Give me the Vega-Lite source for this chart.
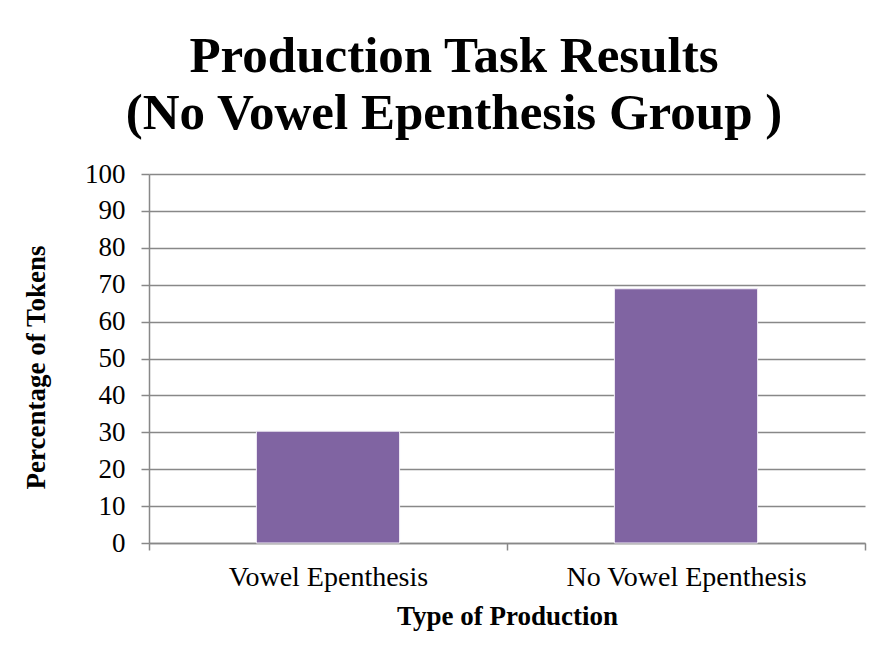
{
  "$schema": "https://vega.github.io/schema/vega-lite/v6.json",
  "width": 716,
  "height": 369,
  "autosize": {"type": "none"},
  "padding": {"left": 149, "top": 174, "right": 18, "bottom": 117},
  "background": "white",
  "title": {
    "text": ["Production Task Results", "(No Vowel Epenthesis Group )"],
    "font": "Liberation Serif",
    "fontSize": 51,
    "fontWeight": "bold",
    "lineHeight": 57,
    "color": "black",
    "anchor": "middle",
    "frame": "group",
    "dx": -53,
    "offset": 20
  },
  "data": {
    "values": [
      {"type": "Vowel Epenthesis", "pct": 30.3},
      {"type": "No Vowel Epenthesis", "pct": 68.9}
    ]
  },
  "mark": {"type": "bar", "color": "#8064A2", "width": {"band": 0.4}, "stroke": "#f2eef7", "strokeWidth": 1},
  "encoding": {
    "x": {
      "field": "type",
      "type": "nominal",
      "sort": ["Vowel Epenthesis", "No Vowel Epenthesis"],
      "scale": {"paddingInner": 0, "paddingOuter": 0},
      "axis": {
        "title": "Type of Production",
        "labelAngle": 0,
        "labelLimit": 0,
        "tickBand": "extent",
        "tickSize": 7,
        "tickColor": "#888888",
        "tickWidth": 1.5,
        "domainColor": "#888888",
        "domainWidth": 1.5,
        "labelFont": "Liberation Serif",
        "labelFontSize": 28,
        "labelColor": "black",
        "labelPadding": 13,
        "titleFont": "Liberation Serif",
        "titleFontSize": 27,
        "titleFontWeight": "bold",
        "titleColor": "black",
        "titlePadding": 12
      }
    },
    "y": {
      "field": "pct",
      "type": "quantitative",
      "scale": {"domain": [0, 100], "nice": false},
      "axis": {
        "title": "Percentage of Tokens",
        "values": [0, 10, 20, 30, 40, 50, 60, 70, 80, 90, 100],
        "grid": true,
        "gridColor": "#888888",
        "gridWidth": 1.5,
        "tickSize": 8,
        "tickColor": "#888888",
        "tickWidth": 1.5,
        "domainColor": "#888888",
        "domainWidth": 1.5,
        "labelFont": "Liberation Serif",
        "labelFontSize": 27,
        "labelColor": "black",
        "labelPadding": 16,
        "titleFont": "Liberation Serif",
        "titleFontSize": 27,
        "titleFontWeight": "bold",
        "titleColor": "black",
        "titlePadding": 34,
        "titleY": 193
      }
    }
  },
  "config": {"view": {"stroke": null}}
}
